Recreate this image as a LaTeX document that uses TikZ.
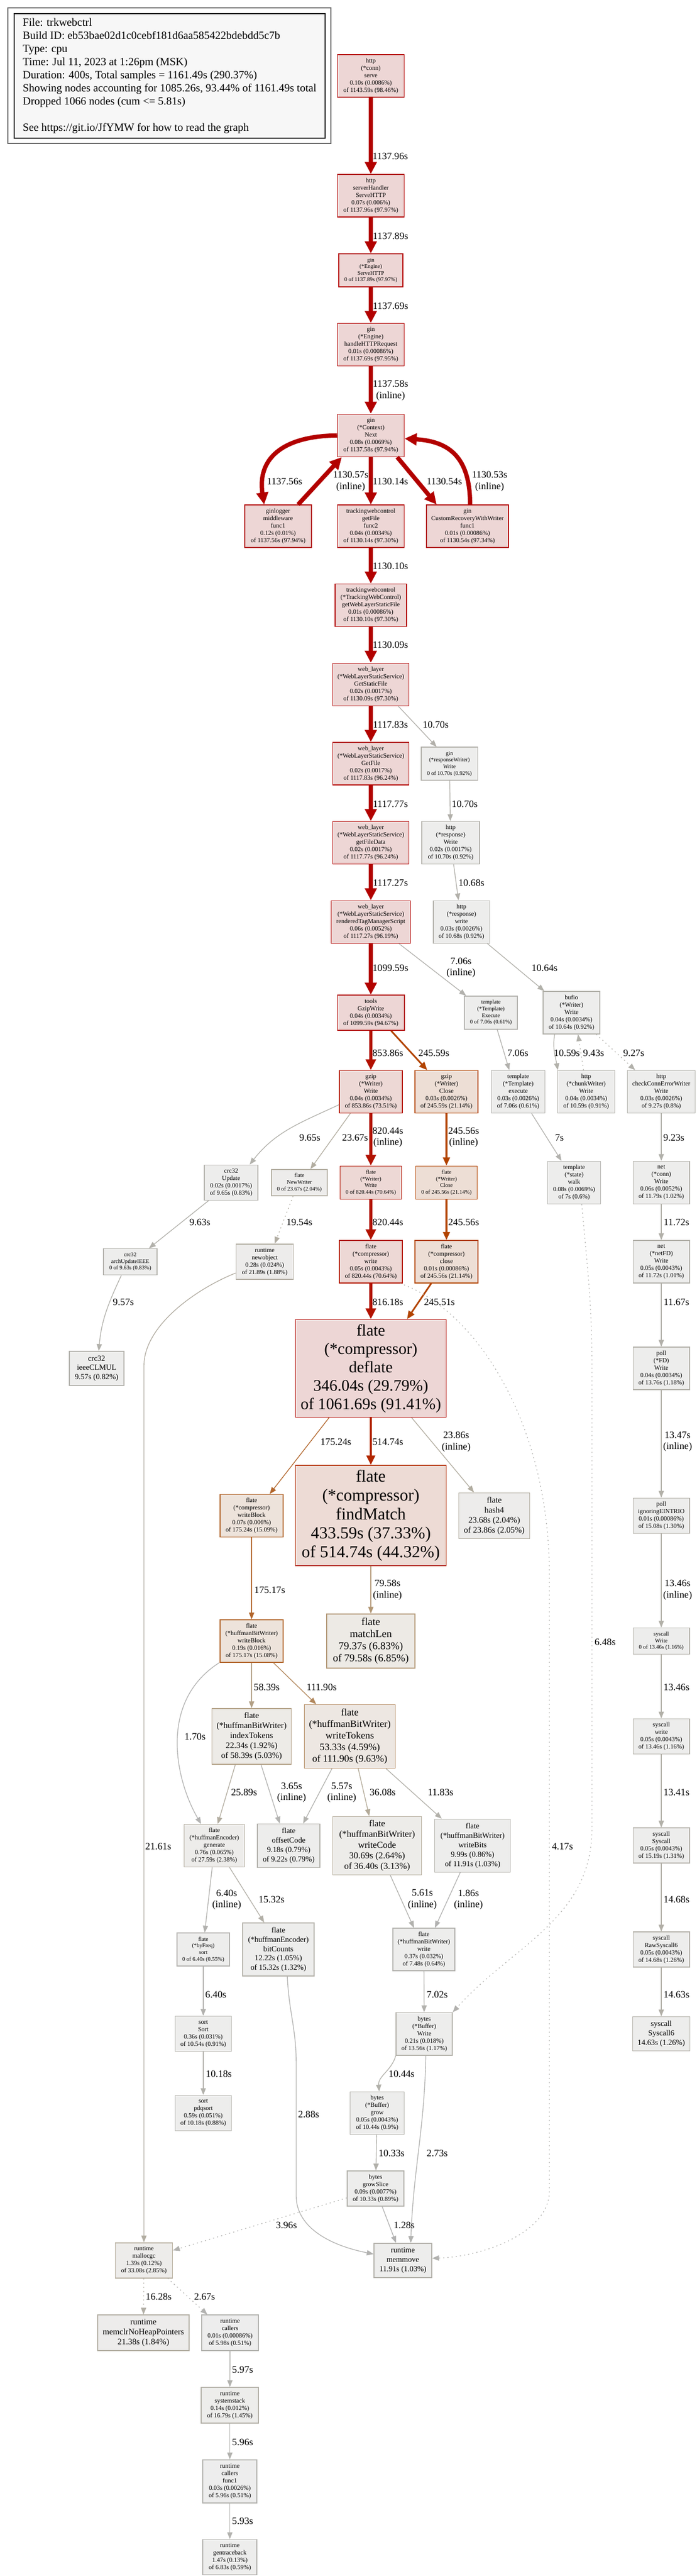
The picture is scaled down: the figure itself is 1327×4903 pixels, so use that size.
\documentclass[tikz,border=0pt]{standalone}
\usepackage{fontspec}
\setmainfont{Liberation Serif}
\usetikzlibrary{arrows.meta}

\newcommand\totalsec{1161.49}
% couleurs comme pprof : #1 = préfixe, #2 = part du total
\newcommand\heatcolor[2]{%
  \edef\heatsat{\fpeval{min(1,(#2)/0.2)}}%
  \edef\heatpow{\fpeval{(#2)^0.3}}%
  \edef\heattmp{%
    \noexpand\definecolor{#1bg}{rgb}{0.93,\fpeval{round(0.93*(1-0.1*\heatsat*\heatpow),4)},\fpeval{round(0.93*(1-0.1*\heatsat),4)}}%
    \noexpand\definecolor{#1fg}{rgb}{0.7,\fpeval{round(0.7*(1-\heatsat*\heatpow),4)},\fpeval{round(0.7*(1-\heatsat),4)}}}%
  \heattmp}
% épaisseur, couleur et pointe d'un arc selon son poids
\newcommand\edgeweight[1]{%
  \edef\edgeshare{\fpeval{#1/\totalsec}}%
  \heatcolor{edge}{\edgeshare}%
  \edef\edgepen{\fpeval{trunc(5*\edgeshare)}}%
  \edef\edgetmp{\noexpand\tikzset{draw=edgefg, line width=\fpeval{1.4+1.7*\edgepen}pt,
    -{Triangle[length=\fpeval{13+2.5*\edgepen}pt, width=\fpeval{10+3*\edgepen}pt]}}}%
  \edgetmp}

\begin{document}
\begin{tikzpicture}[
    x=1pt, y=-1pt,
    box/.style = {rectangle, /utils/exec={\heatcolor{node}{#1/\totalsec}}, draw=nodefg, fill=nodebg, line width=1.5pt, align=center, inner sep=2pt},
    sz/.style 2 args = {minimum width=#1pt, minimum height=#2pt},
    wt/.code = {\edgeweight{#1}},
    res/.style = {dash pattern=on 2pt off 6pt},
    lab/.style = {font=\fontsize{18.67}{21.5}\selectfont, align=center, inner sep=0pt},
    t8/.style = {font=\fontsize{10.67}{12.6}\selectfont},
    t9/.style = {font=\fontsize{12}{14}\selectfont},
    t11/.style = {font=\fontsize{14.67}{17.8}\selectfont},
    t12/.style = {font=\fontsize{16}{19}\selectfont},
    t13/.style = {font=\fontsize{17.33}{20.3}\selectfont},
    t14/.style = {font=\fontsize{18.67}{22}\selectfont},
    t15/.style = {font=\fontsize{20}{23}\selectfont},
    t23/.style = {font=\fontsize{30.67}{35}\selectfont},
    t24/.style = {font=\fontsize{32}{36}\selectfont},
]
    \path[use as bounding box, fill=white] (0,0) rectangle (1327,4903);

    % légende
    \node[draw=black!65, line width=1.5pt, sz={615}{258}] (frame) at (322.5,144) {};
    \node[draw=black, fill=black!3, line width=1.5pt, sz={592}{237}, align=left, inner sep=1pt,
          font=\fontsize{21}{25}\selectfont] (legend) at (323,144.5)
        {File: trkwebctrl\\
         Build ID: eb53bae02d1c0cebf181d6aa585422bdebdd5c7b\\
         Type: cpu\\
         Time: Jul 11, 2023 at 1:26pm (MSK)\\
         Duration: 400s, Total samples = 1161.49s (290.37\%)\\
         Showing nodes accounting for 1085.26s, 93.44\% of 1161.49s total\\
         Dropped 1066 nodes (cum <= 5.81s)\\[25pt]
         See https://git.io/JfYMW for how to read the graph};

    % colonne principale
    \node[box=1143.59, t9, sz={127}{81}] (serve) at (706,144.5) {http\\(*conn)\\serve\\0.10s (0.0086\%)\\of 1143.59s (98.46\%)};
    \node[box=1137.96, t9, sz={127}{81}] (handler) at (706,372.5) {http\\serverHandler\\ServeHTTP\\0.07s (0.006\%)\\of 1137.96s (97.97\%)};
    \node[box=1137.89, t8, sz={122}{63}] (engine) at (706,514.5) {gin\\(*Engine)\\ServeHTTP\\0 of 1137.89s (97.97\%)};
    \node[box=1137.69, t9, sz={127}{81}] (handle) at (706,656) {gin\\(*Engine)\\handleHTTPRequest\\0.01s (0.00086\%)\\of 1137.69s (97.95\%)};
    \node[box=1137.58, t9, sz={127}{81}] (next) at (706,828.8) {gin\\(*Context)\\Next\\0.08s (0.0069\%)\\of 1137.58s (97.94\%)};
    \node[box=1137.56, t9, sz={127}{81}] (logger) at (529.4,1001.5) {ginlogger\\middleware\\func1\\0.12s (0.01\%)\\of 1137.56s (97.94\%)};
    \node[box=1130.14, t9, sz={127}{81}] (getfile) at (706,1001.5) {trackingwebcontrol\\getFile\\func2\\0.04s (0.0034\%)\\of 1130.14s (97.30\%)};
    \node[box=1130.54, t9, sz={156}{81}] (recovery) at (890,1001.5) {gin\\CustomRecoveryWithWriter\\func1\\0.01s (0.00086\%)\\of 1130.54s (97.34\%)};
    \node[box=1130.10, t9, sz={136}{81}] (getweb) at (706,1152) {trackingwebcontrol\\(*TrackingWebControl)\\getWebLayerStaticFile\\0.01s (0.00086\%)\\of 1130.10s (97.30\%)};
    \node[box=1130.09, t9, sz={145}{81}] (staticfile) at (706,1302.8) {web\_layer\\(*WebLayerStaticService)\\GetStaticFile\\0.02s (0.0017\%)\\of 1130.09s (97.30\%)};
    \node[box=1117.83, t9, sz={145}{81}] (getfile2) at (706,1453.5) {web\_layer\\(*WebLayerStaticService)\\GetFile\\0.02s (0.0017\%)\\of 1117.83s (96.24\%)};
    \node[box=1117.77, t9, sz={145}{81}] (filedata) at (706,1604) {web\_layer\\(*WebLayerStaticService)\\getFileData\\0.02s (0.0017\%)\\of 1117.77s (96.24\%)};
    \node[box=10.70, t8, sz={107.5}{63}] (rwwrite) at (855.7,1453.7) {gin\\(*responseWriter)\\Write\\0 of 10.70s (0.92\%)};
    \node[box=10.70, t9, sz={110}{81}] (respWrite) at (858,1604) {http\\(*response)\\Write\\0.02s (0.0017\%)\\of 10.70s (0.92\%)};
    \node[box=1117.27, t9, sz={151}{81}] (render) at (706,1754.8) {web\_layer\\(*WebLayerStaticService)\\renderedTagManagerScript\\0.06s (0.0052\%)\\of 1117.27s (96.19\%)};
    \node[box=10.68, t9, sz={107.5}{81}] (resplwrite) at (878.5,1754.8) {http\\(*response)\\write\\0.03s (0.0026\%)\\of 10.68s (0.92\%)};
    \node[box=1099.59, t9, sz={127.5}{67}] (gzipwrite) at (706,1927.5) {tools\\GzipWrite\\0.04s (0.0034\%)\\of 1099.59s (94.67\%)};
    \node[box=7.06, t8, sz={101}{63}] (execute) at (934.6,1927.3) {template\\(*Template)\\Execute\\0 of 7.06s (0.61\%)};
    \node[box=10.64, t9, sz={108}{81}] (bufio) at (1088,1927.5) {bufio\\(*Writer)\\Write\\0.04s (0.0034\%)\\of 10.64s (0.92\%)};
    \node[box=853.86, t9, sz={120}{81}] (gzwrite) at (706,2078) {gzip\\(*Writer)\\Write\\0.04s (0.0034\%)\\of 853.86s (73.51\%)};
    \node[box=245.59, t9, sz={120}{81}] (gzclose) at (850,2078) {gzip\\(*Writer)\\Close\\0.03s (0.0026\%)\\of 245.59s (21.14\%)};
    \node[box=7.06, t9, sz={102}{81}] (texec) at (986.6,2078) {template\\(*Template)\\execute\\0.03s (0.0026\%)\\of 7.06s (0.61\%)};
    \node[box=10.59, t9, sz={109}{81}] (chunk) at (1116,2078) {http\\(*chunkWriter)\\Write\\0.04s (0.0034\%)\\of 10.59s (0.91\%)};
    \node[box=9.27, t9, sz={129}{81}] (checkconn) at (1259,2078) {http\\checkConnErrorWriter\\Write\\0.03s (0.0026\%)\\of 9.27s (0.8\%)};
    \node[box=9.65, t9, sz={102}{67}] (crcupdate) at (440,2250.8) {crc32\\Update\\0.02s (0.0017\%)\\of 9.65s (0.83\%)};
    \node[box=23.67, t8, sz={106}{50}] (newwriter) at (570,2250.8) {flate\\NewWriter\\0 of 23.67s (2.04\%)};
    \node[box=820.44, t8, sz={117}{63}] (fwrite) at (706,2250.8) {flate\\(*Writer)\\Write\\0 of 820.44s (70.64\%)};
    \node[box=245.56, t8, sz={117}{63}] (fclose) at (850,2250.8) {flate\\(*Writer)\\Close\\0 of 245.56s (21.14\%)};
    \node[box=7, t9, sz={101}{81}] (walk) at (1093,2250.8) {template\\(*state)\\walk\\0.08s (0.0069\%)\\of 7s (0.6\%)};
    \node[box=11.79, t9, sz={107.5}{81}] (conn) at (1259,2250.8) {net\\(*conn)\\Write\\0.06s (0.0052\%)\\of 11.79s (1.02\%)};
    \node[box=9.63, t8, sz={101.6}{50}] (archcrc) at (248,2401.7) {crc32\\archUpdateIEEE\\0 of 9.63s (0.83\%)};
    \node[box=21.89, t9, sz={109}{67}] (newobj) at (504,2401.3) {runtime\\newobject\\0.28s (0.024\%)\\of 21.89s (1.88\%)};
    \node[box=820.44, t9, sz={120}{81}] (cwrite) at (706,2401.5) {flate\\(*compressor)\\write\\0.05s (0.0043\%)\\of 820.44s (70.64\%)};
    \node[box=245.56, t9, sz={120}{81}] (cclose) at (850,2401.5) {flate\\(*compressor)\\close\\0.01s (0.00086\%)\\of 245.56s (21.14\%)};
    \node[box=11.72, t9, sz={107.5}{81}] (netfd) at (1259,2401.5) {net\\(*netFD)\\Write\\0.05s (0.0043\%)\\of 11.72s (1.01\%)};
    \node[box=9.57, t11, sz={103.6}{65}] (clmul) at (184,2604.5) {crc32\\ieeeCLMUL\\9.57s (0.82\%)};
    \node[box=1061.69, t23, sz={287}{186}] (deflate) at (706,2604.5) {flate\\(*compressor)\\deflate\\346.04s (29.79\%)\\of 1061.69s (91.41\%)};
    \node[box=13.76, t9, sz={107.5}{81}] (pollwrite) at (1259,2604.5) {poll\\(*FD)\\Write\\0.04s (0.0034\%)\\of 13.76s (1.18\%)};
    \node[box=175.24, t9, sz={120}{81}] (wblock) at (479,2884.8) {flate\\(*compressor)\\writeBlock\\0.07s (0.006\%)\\of 175.24s (15.09\%)};
    \node[box=514.74, t24, sz={287}{191}] (findmatch) at (706,2884.7) {flate\\(*compressor)\\findMatch\\433.59s (37.33\%)\\of 514.74s (44.32\%)};
    \node[box=23.86, t12, sz={135}{87}] (hash4) at (941,2884.8) {flate\\hash4\\23.68s (2.04\%)\\of 23.86s (2.05\%)};
    \node[box=15.08, t9, sz={107.5}{67}] (eintr) at (1259,2884.8) {poll\\ignoringEINTRIO\\0.01s (0.00086\%)\\of 15.08s (1.30\%)};
    \node[box=175.17, t9, sz={120}{81}] (hwblock) at (479,3123.5) {flate\\(*huffmanBitWriter)\\writeBlock\\0.19s (0.016\%)\\of 175.17s (15.08\%)};
    \node[box=79.58, t15, sz={167.6}{103}] (matchlen) at (706,3123.5) {flate\\matchLen\\79.37s (6.83\%)\\of 79.58s (6.85\%)};
    \node[box=13.46, t8, sz={107.5}{50}] (sysWrite) at (1259,3123.5) {syscall\\Write\\0 of 13.46s (1.16\%)};
    \node[box=58.39, t12, sz={151}{106}] (itokens) at (479,3305) {flate\\(*huffmanBitWriter)\\indexTokens\\22.34s (1.92\%)\\of 58.39s (5.03\%)};
    \node[box=111.90, t14, sz={173}{121}] (wtokens) at (666,3305) {flate\\(*huffmanBitWriter)\\writeTokens\\53.33s (4.59\%)\\of 111.90s (9.63\%)};
    \node[box=13.46, t9, sz={107.5}{67}] (syslwrite) at (1259,3305) {syscall\\write\\0.05s (0.0043\%)\\of 13.46s (1.16\%)};
    \node[box=27.59, t9, sz={114.6}{81}] (generate) at (408,3513) {flate\\(*huffmanEncoder)\\generate\\0.76s (0.065\%)\\of 27.59s (2.38\%)};
    \node[box=9.22, t11, sz={119}{83}] (offset) at (549.6,3513) {flate\\offsetCode\\9.18s (0.79\%)\\of 9.22s (0.79\%)};
    \node[box=36.40, t13, sz={169}{111}] (wcode) at (718,3512.8) {flate\\(*huffmanBitWriter)\\writeCode\\30.69s (2.64\%)\\of 36.40s (3.13\%)};
    \node[box=11.91, t11, sz={144}{101}] (wbits) at (899.7,3512.8) {flate\\(*huffmanBitWriter)\\writeBits\\9.99s (0.86\%)\\of 11.91s (1.03\%)};
    \node[box=15.19, t9, sz={107.5}{67}] (syscall) at (1259,3512.7) {syscall\\Syscall\\0.05s (0.0043\%)\\of 15.19s (1.31\%)};
    \node[box=6.40, t8, sz={100}{63}] (byfreq) at (387,3710.5) {flate\\(*byFreq)\\sort\\0 of 6.40s (0.55\%)};
    \node[box=15.32, t11, sz={136}{101}] (bitcounts) at (530,3710.5) {flate\\(*huffmanEncoder)\\bitCounts\\12.22s (1.05\%)\\of 15.32s (1.32\%)};
    \node[box=7.48, t9, sz={118}{81}] (hwrite) at (807,3710.5) {flate\\(*huffmanBitWriter)\\write\\0.37s (0.032\%)\\of 7.48s (0.64\%)};
    \node[box=14.68, t9, sz={107.5}{67}] (raw6) at (1259,3710.7) {syscall\\RawSyscall6\\0.05s (0.0043\%)\\of 14.68s (1.26\%)};
    \node[box=10.54, t9, sz={107}{67}] (sort) at (387,3871) {sort\\Sort\\0.36s (0.031\%)\\of 10.54s (0.91\%)};
    \node[box=13.56, t9, sz={107}{81}] (bwrite) at (807.7,3871.2) {bytes\\(*Buffer)\\Write\\0.21s (0.018\%)\\of 13.56s (1.17\%)};
    \node[box=14.63, t11, sz={109}{65}] (sys6) at (1259,3871) {syscall\\Syscall6\\14.63s (1.26\%)};
    \node[box=10.18, t9, sz={107}{67}] (pdq) at (387,4021.7) {sort\\pdqsort\\0.59s (0.051\%)\\of 10.18s (0.88\%)};
    \node[box=10.44, t9, sz={103}{81}] (grow) at (718,4022) {bytes\\(*Buffer)\\grow\\0.05s (0.0043\%)\\of 10.44s (0.9\%)};
    \node[box=10.33, t9, sz={108}{67}] (growslice) at (715,4165.3) {bytes\\growSlice\\0.09s (0.0077\%)\\of 10.33s (0.89\%)};
    \node[box=33.08, t9, sz={109}{67}] (malloc) at (274,4302.2) {runtime\\mallocgc\\1.39s (0.12\%)\\of 33.08s (2.85\%)};
    \node[box=11.91, t11, sz={110}{65}] (memmove) at (767,4302.2) {runtime\\memmove\\11.91s (1.03\%)};
    \node[box=21.38, t12, sz={174}{68}] (memclr) at (273,4440) {runtime\\memclrNoHeapPointers\\21.38s (1.84\%)};
    \node[box=5.98, t9, sz={108}{68}] (callers) at (438,4440) {runtime\\callers\\0.01s (0.00086\%)\\of 5.98s (0.51\%)};
    \node[box=16.79, t9, sz={109}{68}] (sysstack) at (437.6,4578) {runtime\\systemstack\\0.14s (0.012\%)\\of 16.79s (1.45\%)};
    \node[box=5.96, t9, sz={103}{82}] (callersf) at (437.6,4722.7) {runtime\\callers\\func1\\0.03s (0.0026\%)\\of 5.96s (0.51\%)};
    \node[box=6.83, t9, sz={103}{67}] (gentb) at (437.6,4867) {runtime\\gentraceback\\1.47s (0.13\%)\\of 6.83s (0.59\%)};

    % arcs droits d'un nœud à l'autre
    \foreach \a/\b/\w/\lx/\ly/\t in {
        serve/handler/1137.96/743/297.7/1137.96s,
        handler/engine/1137.89/743.5/449.3/1137.89s,
        engine/handle/1137.69/743.5/582.3/1137.69s,
        handle/next/1137.58/743.5/743.3/1137.58s\\(inline),
        next/getfile/1130.14/743.3/916.7/1130.14s,
        getfile/getweb/1130.10/743.3/1077.7/1130.10s,
        getweb/staticfile/1130.09/743.3/1227.7/1130.09s,
        staticfile/getfile2/1117.83/743.3/1379/1117.83s,
        getfile2/filedata/1117.77/743.3/1530/1117.77s,
        filedata/render/1117.27/743.3/1680/1117.27s,
        render/gzipwrite/1099.59/743.3/1842.7/1099.59s,
        rwwrite/respWrite/10.70/884.8/1530/10.70s,
        respWrite/resplwrite/10.68/897.5/1680/10.68s,
        gzipwrite/gzwrite/853.86/738.4/2004/853.86s,
        gzwrite/fwrite/820.44/738.4/2165/820.44s\\(inline),
        gzclose/fclose/245.56/882.7/2165/245.56s\\(inline),
        checkconn/conn/9.23/1282.9/2165/9.23s,
        fwrite/cwrite/820.44/738.4/2326.7/820.44s,
        fclose/cclose/245.56/882.7/2326.7/245.56s,
        conn/netfd/11.72/1287.9/2326.7/11.72s,
        cwrite/deflate/816.18/738.4/2478.3/816.18s,
        netfd/pollwrite/11.67/1287.9/2478.3/11.67s,
        deflate/findmatch/514.74/738.4/2744.3/514.74s,
        pollwrite/eintr/13.47/1290/2744/13.47s\\(inline),
        wblock/hwblock/175.17/513.5/3026.7/175.17s,
        findmatch/matchlen/79.58/737.7/3026.3/79.58s\\(inline),
        eintr/sysWrite/13.46/1290/3026.3/13.46s\\(inline),
        hwblock/itokens/58.39/507.8/3211/58.39s,
        sysWrite/syslwrite/13.46/1287.9/3211/13.46s,
        syslwrite/syscall/13.41/1287.9/3411.7/13.41s,
        syscall/raw6/14.68/1287.9/3615/14.68s,
        byfreq/sort/6.40/410.9/3796.7/6.40s,
        hwrite/bwrite/7.02/832.4/3796.7/7.02s,
        raw6/sys6/14.63/1287.9/3796.7/14.63s,
        sort/pdq/10.18/416.6/3947.7/10.18s,
        grow/growslice/10.33/745.5/4098.3/10.33s,
        callers/sysstack/5.97/461.9/4510/5.97s,
        sysstack/callersf/5.96/461.9/4648/5.96s,
        callersf/gentb/5.93/461.9/4798.7/5.93s}
        \draw[wt=\w] (\a) -- (\b) node[lab] at (\lx,\ly) {\t};

    % arcs décalés ou courbes
    \draw[wt=1137.56] (next.west) .. controls (535,830) and (490,875) .. ([xshift=-26.5pt]logger.north) node[lab] at (541.8,916.7) {1137.56s};
    \draw[wt=1130.57] ([xshift=-26pt]logger.north east) -- ([xshift=9pt]next.south west) node[lab] at (667.7,916.3) {1130.57s\\(inline)};
    \draw[wt=1130.54] ([xshift=-14pt]next.south east) -- ([xshift=20pt]recovery.north west) node[lab] at (845.9,916.7) {1130.54s};
    \draw[wt=1130.53] ([xshift=5pt]recovery.north) .. controls (895,870) and (855,840) .. ([yshift=-6pt]next.east) node[lab] at (932.2,916.3) {1130.53s\\(inline)};
    \draw[wt=10.70] ([xshift=-21pt]staticfile.south east) -- ([xshift=30pt]rwwrite.north west) node[lab] at (829.6,1379) {10.70s};
    \draw[wt=7.06] ([xshift=-22.6pt]render.south east) -- ([xshift=4pt]execute.north west) node[lab] at (877.7,1842) {7.06s\\(inline)};
    \draw[wt=10.64] ([xshift=-5pt]resplwrite.south east) -- ([xshift=3pt]bufio.north west) node[lab] at (1036.8,1842.7) {10.64s};
    \draw[wt=245.59] ([xshift=-26pt]gzipwrite.south east) -- ([xshift=24pt]gzclose.north west) node[lab] at (826,2004) {245.59s};
    \draw[wt=7.06] ([xshift=12pt]execute.south) -- ([xshift=-17pt]texec.north) node[lab] at (985.9,2004) {7.06s};
    \draw[wt=10.59] ([xshift=-32pt]bufio.south) to[out=-100, in=100] ([xshift=-54pt]chunk.north) node[lab] at (1079.3,2004) {10.59s};
    \draw[wt=9.43, res] ([xshift=-5pt]chunk.north) -- ([xshift=12.5pt]bufio.south) node[lab] at (1130.2,2004) {9.43s};
    \draw[wt=9.27, res] ([xshift=-7.6pt]bufio.south east) -- ([xshift=15.5pt]checkconn.north west) node[lab] at (1206.6,2004) {9.27s};
    \draw[wt=9.65] ([yshift=-24.7pt]gzwrite.west) to[out=205, in=52] ([xshift=-16.4pt]crcupdate.north east) node[lab] at (589.9,2165) {9.65s};
    \draw[wt=23.67] ([xshift=-39pt]gzwrite.south) -- ([xshift=21pt]newwriter.north) node[lab] at (676.1,2165) {23.67s};
    \draw[wt=7] ([xshift=25.5pt]texec.south) -- ([xshift=-24pt]walk.north) node[lab] at (1065.1,2165) {7s};
    \draw[wt=9.63] ([xshift=9pt]crcupdate.south west) -- ([xshift=-16pt]archcrc.north east) node[lab] at (380.5,2326.7) {9.63s};
    \draw[wt=19.54, res] ([xshift=-12pt]newwriter.south) -- ([xshift=19pt]newobj.north) node[lab] at (570,2326.7) {19.54s};
    \draw[wt=9.57] ([xshift=-17pt]archcrc.south) to[out=-115, in=85] ([xshift=4pt]clmul.north) node[lab] at (234.9,2478.3) {9.57s};
    \draw[wt=245.51] ([xshift=-29pt]cclose.south) -- ([xshift=69pt]deflate.north) node[lab] at (836.7,2478.3) {245.51s};
    \draw[wt=21.61] ([yshift=-21.7pt]newobj.west) .. controls (380,2450) and (274,2520) .. (274,2600) -- (malloc.north) node[lab] at (301.3,3514.3) {21.61s};
    \draw[wt=4.17, res] ([xshift=-5pt]cwrite.south east) .. controls (900,2490) and (1046,2700) .. (1046,3000) -- (1046,4170) .. controls (1046,4250) and (920,4295) .. ([yshift=4pt]memmove.east) node[lab] at (1070.8,3514.3) {4.17s};
    \draw[wt=6.48, res] ([xshift=14.6pt]walk.south) to[out=-85, in=90] (1127,2600) -- (1127,3480) to[out=-90, in=48] (bwrite.north east) node[lab] at (1152.1,3125) {6.48s};
    \draw[wt=175.24] ([xshift=-79.5pt]deflate.south) -- ([xshift=34.5pt]wblock.north) node[lab] at (639.4,2744.3) {175.24s};
    \draw[wt=23.86] ([xshift=77.7pt]deflate.south) -- ([xshift=-38.6pt]hash4.north) node[lab] at (868.5,2744) {23.86s\\(inline)};
    \draw[wt=111.90] ([xshift=41.6pt]hwblock.south) -- ([xshift=-64pt]wtokens.north) node[lab] at (612.5,3211) {111.90s};
    \draw[wt=1.70] ([xshift=-1pt]hwblock.south west) .. controls (300,3240) and (335,3390) .. ([xshift=-25pt]generate.north) node[lab] at (371.3,3305.7) {1.70s};
    \draw[wt=25.89] ([xshift=-31pt]itokens.south) -- ([xshift=6.5pt]generate.north) node[lab] at (464.7,3411.7) {25.89s};
    \draw[wt=3.65] ([xshift=18pt]itokens.south) -- ([xshift=-17pt]offset.north) node[lab] at (555.2,3412) {3.65s\\(inline)};
    \draw[wt=5.57] ([xshift=-34pt]wtokens.south) -- ([xshift=27.5pt]offset.north) node[lab] at (650.7,3412) {5.57s\\(inline)};
    \draw[wt=36.08] ([xshift=16pt]wtokens.south) -- ([xshift=-15pt]wcode.north) node[lab] at (728.5,3411.7) {36.08s};
    \draw[wt=11.83] ([xshift=69pt]wtokens.south) -- ([xshift=-58.7pt]wbits.north) node[lab] at (838.8,3411.7) {11.83s};
    \draw[wt=6.40] ([xshift=-4pt]generate.south) -- ([xshift=2.7pt]byfreq.north) node[lab] at (431.5,3615.5) {6.40s\\(inline)};
    \draw[wt=15.32] ([xshift=29pt]generate.south) -- ([xshift=-27pt]bitcounts.north) node[lab] at (517,3615) {15.32s};
    \draw[wt=5.61] ([xshift=25pt]wcode.south) -- ([xshift=-19pt]hwrite.north) node[lab] at (804.2,3615.5) {5.61s\\(inline)};
    \draw[wt=1.86] ([xshift=-23.5pt]wbits.south) -- ([xshift=21pt]hwrite.north) node[lab] at (891.8,3615.5) {1.86s\\(inline)};
    \draw[wt=2.88] ([xshift=17pt]bitcounts.south) .. controls (550,3830) and (564,3860) .. (564,3930) -- (564,4180) .. controls (564,4235) and (620,4272) .. ([yshift=12pt]memmove.west) node[lab] at (587.7,4024) {2.88s};
    \draw[wt=10.44] (bwrite.south west) to[out=-105, in=95] ([xshift=4pt]grow.north) node[lab] at (764.6,3947.7) {10.44s};
    \draw[wt=2.73] ([xshift=3pt]bwrite.south) to[out=-91, in=88] ([xshift=15pt]memmove.north) node[lab] at (832.4,4098.3) {2.73s};
    \draw[wt=1.28] ([xshift=12.5pt]growslice.south) -- ([xshift=-13pt]memmove.north) node[lab] at (769.5,4235) {1.28s};
    \draw[wt=3.96, res] ([yshift=-18pt]growslice.west) -- ([yshift=19pt]malloc.east) node[lab] at (545.3,4235) {3.96s};
    \draw[wt=16.28, res] (malloc) -- (memclr) node[lab] at (302.1,4371.5) {16.28s};
    \draw[wt=2.67, res] ([xshift=-10pt]malloc.south east) -- ([xshift=11.5pt]callers.north west) node[lab] at (389.5,4371.5) {2.67s};
\end{tikzpicture}
\end{document}
